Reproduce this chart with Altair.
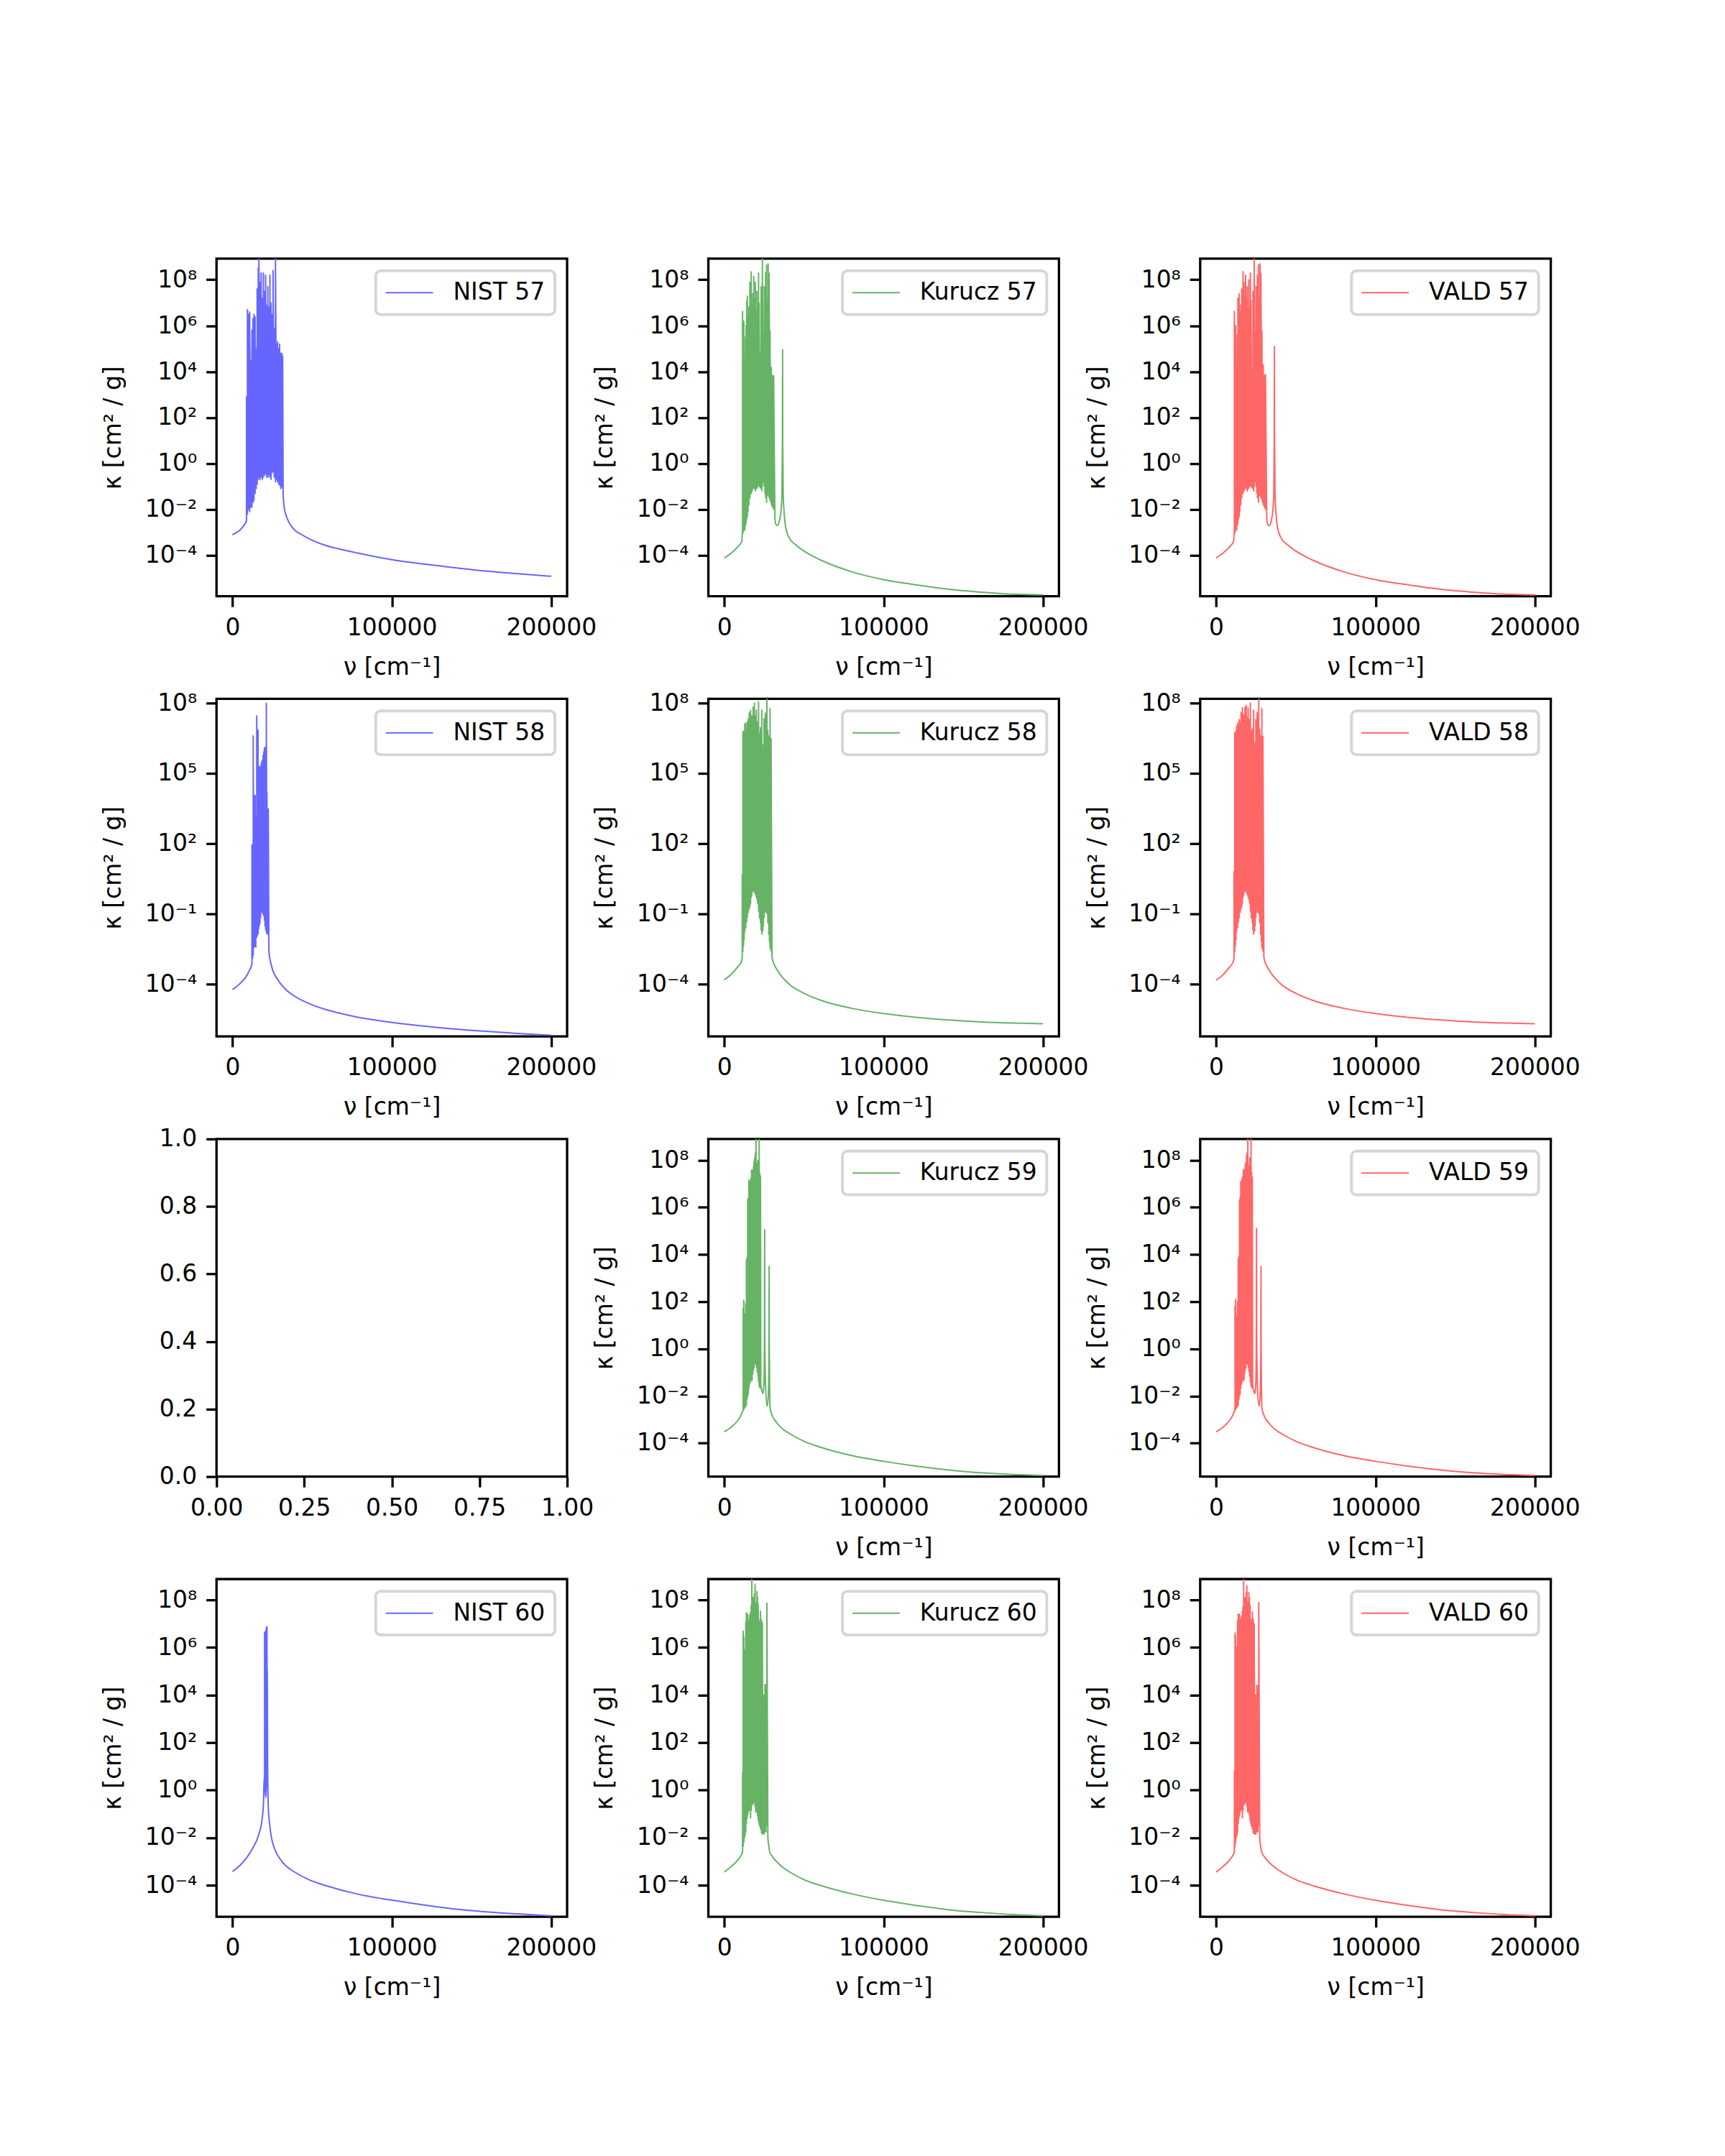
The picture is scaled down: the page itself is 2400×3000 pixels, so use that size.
import altair as alt
import pandas as pd

# ---------------- values (log10 of kappa) ----------------
# each spectrum: left wing (nu, log k), line block (nu, trough, peak), right wing (nu, log k)

NIST57_LEFT = [(0, -3.10), (2400, -3.01), (4400, -2.92), (6400, -2.77), (8000, -2.61)]
NIST57_SPIKES = [
    (8800, -2.5, 2.9), (9400, -2.2, 6.7), (10100, -2.0, 6.5), (10800, -2.1, 6.6), (11500, -1.9, 4.5),
    (12200, -1.9, 5.8), (12900, -1.7, 6.3), (13500, -1.6, 6.5), (14200, -1.3, 6.4), (14900, -1.1, 5.0),
    (15500, -0.9, 7.6), (16200, -0.7, 8.5), (16600, -0.6, 9.5), (17300, -0.7, 7.9), (18000, -0.6, 8.3),
    (18700, -0.7, 7.2), (19400, -0.6, 8.3), (20100, -0.5, 7.5), (20800, -0.45, 8.2), (21500, -0.6, 6.9),
    (22200, -0.6, 7.7), (22900, -0.5, 6.8), (23500, -0.6, 8.2), (24200, -0.7, 7.0), (24900, -0.4, 6.5),
    (25500, -0.35, 8.4), (26200, -0.6, 5.9), (27000, -0.8, 9.5), (27600, -0.7, 5.2), (28300, -0.8, 5.3),
    (29000, -0.9, 5.0), (29600, -0.95, 5.2), (30300, -1.1, 4.8), (31000, -1.0, 4.8), (31500, -1.1, 4.7),
]
NIST57_RIGHT = [(31800, -1.3), (32500, -1.93), (34500, -2.42), (38500, -2.86), (43500, -3.1),
                (48500, -3.29), (58600, -3.57), (68600, -3.75), (78600, -3.9), (98700, -4.17),
                (118800, -4.37), (138800, -4.53), (158900, -4.68), (178900, -4.8), (200000, -4.91)]

KURUCZ57_LEFT = [(0, -4.11), (4400, -3.9), (8400, -3.63), (10850, -3.41)]
KURUCZ57_SPIKES = [
    (11460, -2.8, 6.62), (11860, -3.0, 5.8), (12260, -2.9, 6.2), (12860, -2.9, 1.76), (13270, -2.7, 5.5),
    (13670, -2.6, 6.0), (14070, -2.4, 7.05), (14470, -2.3, 7.3), (14870, -2.1, 6.5), (15480, -1.8, 6.8),
    (16080, -1.5, 7.9), (16480, -1.3, 7.0), (16880, -1.3, 8.35), (17490, -1.2, 6.9), (17890, -1.1, 7.4),
    (18490, -1.07, 8.15), (18890, -1.1, 7.2), (19500, -1.2, 7.9), (19900, -1.1, 6.7), (20500, -1.07, 7.5),
    (20900, -1.0, 6.9), (21510, -0.95, 8.3), (21910, -1.0, 7.0), (22510, -1.07, 4.8), (23120, -1.1, 7.7),
    (23520, -1.2, 6.5), (23920, -1.0, 9.5), (24520, -0.8, 5.8), (25130, -1.0, 7.7), (25530, -1.3, 6.6),
    (25930, -1.5, 8.3), (26530, -1.7, 8.65), (27140, -1.4, 7.0), (27540, -1.3, 8.7), (28140, -1.5, 8.3),
    (28740, -1.6, 5.8), (29150, -1.7, 3.9), (29550, -1.8, 4.2), (30150, -1.9, 3.85), (30550, -1.93, 3.0),
    (30950, -2.0, 3.85),
]
KURUCZ57_RIGHT = [(31760, -2.4), (32560, -2.67), (33570, -2.7), (34570, -2.49), (35580, -2.06),
                  (36180, -1.32), (36480, 0.9), (36580, 4.96), (36680, 0.9), (36980, -1.32),
                  (37590, -2.18), (38590, -2.8), (40600, -3.22), (44620, -3.53), (50650, -3.84),
                  (60700, -4.21), (80800, -4.73), (100900, -5.07), (121000, -5.29), (141100, -5.48),
                  (161200, -5.6), (181300, -5.69), (200000, -5.72)]

VALD57_LEFT = [(0, -4.11), (4400, -3.9), (8400, -3.63), (10850, -3.41)]
VALD57_SPIKES = [
    (11460, -2.8, 6.62), (11860, -3.0, 5.8), (12260, -2.9, 6.0), (12860, -2.9, 1.9), (13270, -2.7, 5.6),
    (13670, -2.6, 7.2), (14070, -2.4, 6.9), (14470, -2.3, 7.4), (14870, -2.1, 6.6), (15480, -1.8, 6.9),
    (16080, -1.5, 7.6), (16480, -1.3, 7.1), (16880, -1.3, 8.35), (17490, -1.2, 7.9), (17890, -1.1, 7.3),
    (18490, -1.07, 8.2), (18890, -1.1, 7.2), (19500, -1.2, 7.7), (19900, -1.1, 6.8), (20500, -1.07, 8.0),
    (20900, -1.0, 6.9), (21510, -0.95, 8.3), (21910, -1.0, 7.1), (22510, -1.07, 4.1), (23120, -1.1, 7.5),
    (23520, -1.2, 6.6), (23920, -1.0, 9.5), (24520, -0.8, 5.8), (25130, -1.0, 7.7), (25530, -1.3, 6.7),
    (25930, -1.5, 8.2), (26530, -1.7, 8.65), (27140, -1.4, 7.1), (27540, -1.3, 8.7), (28140, -1.5, 8.3),
    (28740, -1.6, 5.8), (29150, -1.7, 4.0), (29550, -1.8, 4.3), (30150, -1.9, 3.85), (30550, -1.93, 3.1),
    (30950, -2.0, 3.9),
]
VALD57_RIGHT = [(31760, -2.4), (32560, -2.67), (33570, -2.7), (34570, -2.49), (35580, -2.06),
                (36180, -1.32), (36480, 0.9), (36580, 5.1), (36680, 0.9), (36980, -1.32),
                (37590, -2.18), (38590, -2.8), (40600, -3.22), (44620, -3.53), (50650, -3.84),
                (60700, -4.21), (80800, -4.73), (100900, -5.07), (121000, -5.29), (141100, -5.48),
                (161200, -5.6), (181300, -5.69), (200000, -5.72)]

NIST58_LEFT = [(0, -4.24), (4410, -4.0), (8430, -3.7), (10830, -3.39), (12040, -3.19)]
NIST58_SPIKES = [
    (12240, -3.1, 1.94), (12640, -2.9, 1.94), (13040, -2.75, 6.6), (13440, -2.42, 4.06), (13840, -2.4, 3.2),
    (14240, -2.4, 4.06), (14640, -2.42, 3.2), (15250, -2.0, 7.45), (15650, -1.9, 3.94), (16050, -1.85, 6.85),
    (16450, -1.64, 5.27), (16850, -1.5, 5.3), (17250, -1.4, 5.1), (17650, -1.15, 5.27), (18050, -0.95, 5.4),
    (18460, -0.9, 5.5), (18860, -0.95, 5.55), (19260, -1.05, 5.76), (19660, -1.1, 5.9), (20060, -1.3, 6.06),
    (20460, -1.55, 6.1), (20860, -1.7, 6.1), (21260, -1.8, 8.0), (21670, -1.88, 4.18), (22070, -1.85, 3.5),
    (22470, -1.8, 3.5),
]
NIST58_RIGHT = [(22870, -2.6), (24470, -3.21), (28490, -3.82), (33500, -4.24), (38500, -4.5),
                (48550, -4.85), (58580, -5.09), (68600, -5.27), (78640, -5.42), (98700, -5.63),
                (118760, -5.79), (138820, -5.92), (158880, -6.02), (178940, -6.11), (200000, -6.19)]

KURUCZ58_LEFT = [(0, -3.82), (4420, -3.58), (8440, -3.27), (10850, -3.03)]
KURUCZ58_SPIKES = [
    (11260, -2.85, 0.67), (11660, -2.6, 6.73), (12060, -2.36, 6.8), (12460, -2.1, 6.5), (12860, -1.76, 7.1),
    (13470, -1.6, 7.15), (14070, -1.35, 6.9), (14470, -1.15, 7.2), (15080, -0.95, 7.33), (15680, -0.79, 7.58),
    (16080, -0.67, 7.1), (16480, -0.55, 7.7), (16880, -0.3, 7.3), (17290, -0.2, 7.45), (17690, -0.06, 6.8),
    (18090, 0.0, 7.82), (18490, 0.0, 7.4), (18890, -0.1, 8.0), (19500, -0.18, 7.45), (20100, -0.3, 7.7),
    (20500, -0.4, 6.9), (20900, -0.55, 7.2), (21510, -0.9, 8.06), (22110, -1.2, 6.7), (22710, -1.4, 6.95),
    (23120, -1.7, 5.5), (23520, -1.88, 7.7), (24120, -1.75, 4.06), (24520, -1.5, 6.2), (24920, -1.15, 7.33),
    (25330, -0.95, 6.5), (25730, -0.8, 7.58), (26330, -0.95, 7.45), (26730, -1.0, 8.5), (27340, -1.4, 6.85),
    (27940, -1.9, 6.6), (28340, -2.2, 5.0), (28740, -2.48, 7.76), (29350, -2.6, 6.5),
]
KURUCZ58_RIGHT = [(29950, -2.85), (30550, -3.03), (32560, -3.33), (35580, -3.64), (40600, -4.0),
                  (50650, -4.42), (60700, -4.7), (80800, -5.05), (100900, -5.27), (121000, -5.43),
                  (141100, -5.54), (161200, -5.62), (181300, -5.67), (200000, -5.7)]

VALD58_LEFT = [(0, -3.84), (4420, -3.6), (8440, -3.28), (10850, -3.03)]
VALD58_SPIKES = [
    (11260, -2.85, 0.8), (11660, -2.6, 6.73), (12060, -2.36, 6.6), (12460, -2.1, 6.8), (12860, -1.76, 7.0),
    (13470, -1.6, 7.15), (14070, -1.35, 7.0), (14470, -1.15, 7.3), (15080, -0.95, 7.2), (15680, -0.79, 7.6),
    (16080, -0.67, 7.2), (16480, -0.55, 7.8), (16880, -0.3, 7.3), (17290, -0.2, 7.5), (17690, -0.06, 6.9),
    (18090, 0.0, 7.82), (18490, 0.0, 7.5), (18890, -0.1, 7.9), (19500, -0.18, 7.4), (20100, -0.3, 7.8),
    (20500, -0.4, 6.9), (20900, -0.55, 7.3), (21510, -0.9, 8.0), (22110, -1.2, 6.8), (22710, -1.4, 6.9),
    (23120, -1.7, 5.4), (23520, -1.88, 7.7), (24120, -1.75, 4.1), (24520, -1.5, 6.3), (24920, -1.15, 7.3),
    (25330, -0.95, 6.6), (25730, -0.8, 7.6), (26330, -0.95, 7.4), (26730, -1.0, 8.5), (27340, -1.4, 6.9),
    (27940, -1.9, 6.6), (28340, -2.2, 5.1), (28740, -2.48, 7.76), (29350, -2.6, 6.6),
]
VALD58_RIGHT = [(29950, -2.85), (30550, -3.03), (32560, -3.33), (35580, -3.64), (40600, -4.0),
                (50650, -4.42), (60700, -4.7), (80800, -5.05), (100900, -5.27), (121000, -5.43),
                (141100, -5.54), (161200, -5.62), (181300, -5.67), (200000, -5.7)]

KURUCZ59_LEFT = [(0, -3.52), (4420, -3.32), (8440, -3.04), (10850, -2.76), (11660, -2.62)]
KURUCZ59_SPIKES = [
    (11860, -2.62, 1.7), (12260, -2.55, 2.06), (12660, -2.5, 1.5), (13070, -2.48, 0.98), (13470, -2.42, 1.9),
    (13870, -2.38, 3.74), (14270, -2.14, 3.86), (14670, -2.0, 6.32), (15080, -1.9, 6.38), (15480, -1.66, 7.16),
    (15880, -1.5, 6.68), (16280, -1.42, 7.1), (16680, -1.3, 7.22), (17090, -1.35, 7.58), (17490, -1.3, 7.4),
    (17890, -1.06, 7.58), (18290, -0.9, 7.7), (18690, -0.8, 7.94), (19100, -0.58, 8.1), (19500, -0.65, 8.3),
    (19900, -0.7, 9.5), (20300, -0.82, 7.9), (20700, -1.0, 7.46), (21110, -1.18, 8.0), (21510, -1.42, 7.94),
    (21910, -1.6, 9.5), (22310, -1.66, 7.46), (22710, -1.4, 7.34),
]
KURUCZ59_RIGHT = [(22910, -1.5), (23520, -1.75), (24320, -1.9), (24920, -1.4), (25230, 0.5), (25330, 5.06),
                  (25430, 0.5), (25930, -1.6), (26930, -2.44), (27740, -1.8), (28040, 0.0), (28140, 3.5),
                  (28240, 0.0), (28740, -2.5), (29550, -2.74), (32560, -3.1), (35580, -3.34),
                  (40600, -3.58), (50650, -3.94), (60700, -4.18), (80800, -4.54), (100900, -4.78),
                  (121000, -4.98), (141100, -5.14), (161200, -5.26), (181300, -5.33), (200000, -5.37)]

VALD59_LEFT = [(0, -3.52), (4420, -3.32), (8440, -3.04), (10850, -2.76), (11660, -2.62)]
VALD59_SPIKES = [
    (11860, -2.62, 1.8), (12260, -2.55, 2.1), (12660, -2.5, 1.4), (13070, -2.48, 1.0), (13470, -2.42, 2.0),
    (13870, -2.38, 3.8), (14270, -2.14, 3.9), (14670, -2.0, 6.3), (15080, -1.9, 6.4), (15480, -1.66, 7.1),
    (15880, -1.5, 6.7), (16280, -1.42, 7.2), (16680, -1.3, 7.3), (17090, -1.35, 7.6), (17490, -1.3, 7.4),
    (17890, -1.06, 7.6), (18290, -0.9, 7.8), (18690, -0.8, 7.9), (19100, -0.58, 8.2), (19500, -0.65, 8.3),
    (19900, -0.7, 9.5), (20300, -0.82, 7.8), (20700, -1.0, 7.5), (21110, -1.18, 8.1), (21510, -1.42, 7.9),
    (21910, -1.6, 9.5), (22310, -1.66, 7.5), (22710, -1.4, 7.3),
]
VALD59_RIGHT = [(22910, -1.5), (23520, -1.75), (24320, -1.9), (24920, -1.4), (25230, 0.5), (25330, 5.1),
                (25430, 0.5), (25930, -1.6), (26930, -2.44), (27740, -1.8), (28040, 0.0), (28140, 3.5),
                (28240, 0.0), (28740, -2.5), (29550, -2.74), (32560, -3.1), (35580, -3.34),
                (40600, -3.58), (50650, -3.94), (60700, -4.18), (80800, -4.54), (100900, -4.78),
                (121000, -4.98), (141100, -5.14), (161200, -5.26), (181300, -5.33), (200000, -5.37)]

NIST60_LEFT = [(0, -3.43), (4410, -3.19), (8430, -2.89), (12440, -2.48), (16450, -1.88), (18460, -1.29),
               (19460, -0.57), (19860, 0.5)]
NIST60_SPIKES = [(20160, 0.3, 6.63), (20460, -0.1, 6.6), (20660, -0.2, 6.63), (20860, -0.3, 2.0),
                 (21060, -0.2, 6.7), (21260, 0.0, 6.8), (21470, 0.2, 6.85), (21670, 0.5, 6.87),
                 (21870, 1.0, 5.0)]
NIST60_RIGHT = [(22070, 1.1), (22470, -0.7), (23470, -1.52), (24470, -2.0), (26480, -2.48), (30490, -2.95),
                (33500, -3.19), (38520, -3.43), (48550, -3.79), (58580, -4.02), (78640, -4.38),
                (98700, -4.62), (118760, -4.82), (138820, -5.0), (158880, -5.12), (178940, -5.21),
                (200000, -5.29)]

KURUCZ60_LEFT = [(0, -3.45), (4420, -3.21), (8440, -2.95), (10850, -2.71), (11260, -2.65)]
KURUCZ60_SPIKES = [
    (11460, -2.6, 0.74), (11860, -2.36, 6.69), (12260, -2.2, 6.45), (12660, -2.0, 5.86), (13070, -1.9, 5.9),
    (13470, -1.76, 7.05), (13870, -1.4, 7.46), (14270, -1.2, 7.05), (14670, -1.05, 7.4), (15080, -0.93, 7.17),
    (15480, -0.85, 7.0), (15880, -0.8, 7.35), (16480, -1.17, 7.46), (16880, -0.85, 7.76), (17290, -0.63, 9.5),
    (17690, -0.6, 7.64), (18090, -0.57, 8.1), (18490, -0.5, 7.6), (18890, -0.45, 8.24), (19300, -0.7, 8.65),
    (19700, -0.93, 7.88), (20100, -0.9, 7.6), (20500, -0.95, 8.36), (20900, -1.1, 8.1), (21310, -1.29, 7.8),
    (21710, -1.4, 7.17), (22110, -1.52, 7.05), (22710, -1.64, 7.52), (23320, -1.82, 7.17), (23920, -1.85, 7.05),
    (24320, -1.85, 3.95), (24920, -1.85, 4.0), (25530, -1.76, 4.43), (26130, -1.76, 4.43), (26730, -1.5, 7.88),
]
KURUCZ60_RIGHT = [(27340, -2.0), (27940, -2.36), (28540, -2.6), (30550, -2.83), (35580, -3.19),
                  (40600, -3.43), (50650, -3.79), (60700, -4.02), (80800, -4.38), (100900, -4.65),
                  (121000, -4.86), (141100, -5.04), (161200, -5.15), (181300, -5.24), (200000, -5.29)]

VALD60_LEFT = [(0, -3.45), (4420, -3.21), (8440, -2.95), (10850, -2.71), (11260, -2.65)]
VALD60_SPIKES = [
    (11460, -2.6, 0.8), (11860, -2.36, 6.6), (12260, -2.2, 6.5), (12660, -2.0, 5.9), (13070, -1.9, 6.0),
    (13470, -1.76, 7.1), (13870, -1.4, 7.4), (14270, -1.2, 7.0), (14670, -1.05, 7.4), (15080, -0.93, 7.2),
    (15480, -0.85, 7.1), (15880, -0.8, 7.3), (16480, -1.17, 7.5), (16880, -0.85, 7.7), (17290, -0.63, 9.5),
    (17690, -0.6, 7.6), (18090, -0.57, 8.1), (18490, -0.5, 7.7), (18890, -0.45, 8.3), (19300, -0.7, 8.6),
    (19700, -0.93, 7.9), (20100, -0.9, 7.6), (20500, -0.95, 8.3), (20900, -1.1, 8.1), (21310, -1.29, 7.8),
    (21710, -1.4, 7.2), (22110, -1.52, 7.1), (22710, -1.64, 7.5), (23320, -1.82, 7.2), (23920, -1.85, 7.0),
    (24320, -1.85, 4.0), (24920, -1.85, 4.0), (25530, -1.76, 4.4), (26130, -1.76, 4.4), (26730, -1.5, 7.9),
]
VALD60_RIGHT = [(27340, -2.0), (27940, -2.36), (28540, -2.6), (30550, -2.83), (35580, -3.19),
                (40600, -3.43), (50650, -3.79), (60700, -4.02), (80800, -4.38), (100900, -4.65),
                (121000, -4.86), (141100, -5.04), (161200, -5.15), (181300, -5.24), (200000, -5.29)]

# y-axis limits per row (log10) and tick exponents
ROW_YLIM = [(-5.78, 8.92), (-6.24, 8.18), (-5.42, 8.90), (-5.33, 8.87)]
ROW_TICKS = [[-4, -2, 0, 2, 4, 6, 8], [-4, -1, 2, 5, 8], [-4, -2, 0, 2, 4, 6, 8], [-4, -2, 0, 2, 4, 6, 8]]
X_TICKS = [0, 100000, 200000]
EMPTY_X_TICKS = [0.0, 0.25, 0.5, 0.75, 1.0]
EMPTY_Y_TICKS = [0.0, 0.2, 0.4, 0.6, 0.8, 1.0]

COLORS = {"NIST": "#6666ff", "Kurucz": "#66b366", "VALD": "#ff6666"}

PANELS = [
    ("NIST 57", "NIST", NIST57_LEFT, NIST57_SPIKES, NIST57_RIGHT, 0),
    ("Kurucz 57", "Kurucz", KURUCZ57_LEFT, KURUCZ57_SPIKES, KURUCZ57_RIGHT, 0),
    ("VALD 57", "VALD", VALD57_LEFT, VALD57_SPIKES, VALD57_RIGHT, 0),
    ("NIST 58", "NIST", NIST58_LEFT, NIST58_SPIKES, NIST58_RIGHT, 1),
    ("Kurucz 58", "Kurucz", KURUCZ58_LEFT, KURUCZ58_SPIKES, KURUCZ58_RIGHT, 1),
    ("VALD 58", "VALD", VALD58_LEFT, VALD58_SPIKES, VALD58_RIGHT, 1),
    None,
    ("Kurucz 59", "Kurucz", KURUCZ59_LEFT, KURUCZ59_SPIKES, KURUCZ59_RIGHT, 2),
    ("VALD 59", "VALD", VALD59_LEFT, VALD59_SPIKES, VALD59_RIGHT, 2),
    ("NIST 60", "NIST", NIST60_LEFT, NIST60_SPIKES, NIST60_RIGHT, 3),
    ("Kurucz 60", "Kurucz", KURUCZ60_LEFT, KURUCZ60_SPIKES, KURUCZ60_RIGHT, 3),
    ("VALD 60", "VALD", VALD60_LEFT, VALD60_SPIKES, VALD60_RIGHT, 3),
]

# ---------------- chart ----------------
W, H = 489, 471
FONT = "DejaVu Sans"

sup = "'' + round(log(datum.value) / LN10)"
for a, b in [("-", "⁻"), ("0", "⁰"), ("1", "¹"), ("2", "²"), ("3", "³"), ("4", "⁴"),
             ("5", "⁵"), ("6", "⁶"), ("7", "⁷"), ("8", "⁸"), ("9", "⁹")]:
    sup = f"replace({sup}, '{a}', '{b}')"
SUP_EXPR = "'10' + " + sup


def spectrum_chart(label, source, left, spikes, right, row):
    nu, lk = [], []
    for n, v in left:
        nu.append(n); lk.append(v)
    for n, lo, hi in spikes:
        nu += [n, n]; lk += [lo, hi]
    for n, v in right:
        nu.append(n); lk.append(v)
    df = pd.DataFrame({"i": list(range(len(nu))), "nu": nu,
                       "kappa": [10.0 ** v for v in lk], "label": label})
    ylo, yhi = ROW_YLIM[row]
    return alt.Chart(df).mark_line(clip=True, strokeWidth=2.0, interpolate="monotone").encode(
        x=alt.X("nu:Q",
                scale=alt.Scale(domain=[-10000, 210000], nice=False, zero=False),
                axis=alt.Axis(values=X_TICKS, format="d", title="ν [cm⁻¹]",
                              titleX=W / 2, titleY=99, titleBaseline="middle", titleAlign="center")),
        y=alt.Y("kappa:Q",
                scale=alt.Scale(type="log", domain=[10 ** ylo, 10 ** yhi], nice=False),
                axis=alt.Axis(values=[10.0 ** e for e in ROW_TICKS[row]], labelExpr=SUP_EXPR,
                              title="κ [cm² / g]", titleX=-144, titleY=H / 2, titleAngle=270,
                              titleBaseline="middle", titleAlign="center")),
        color=alt.Color("label:N", scale=alt.Scale(domain=[label], range=[COLORS[source]]),
                        legend=alt.Legend(title=None)),
        order="i:Q",
    ).properties(width=W, height=H)


def empty_chart():
    df = pd.DataFrame({"x": pd.Series([], dtype=float), "y": pd.Series([], dtype=float)})
    return alt.Chart(df).mark_point(opacity=0).encode(
        x=alt.X("x:Q", scale=alt.Scale(domain=[0, 1], nice=False, zero=False),
                axis=alt.Axis(values=EMPTY_X_TICKS, format=".2f", title=None)),
        y=alt.Y("y:Q", scale=alt.Scale(domain=[0, 1], nice=False, zero=False),
                axis=alt.Axis(values=EMPTY_Y_TICKS, format=".1f", title=None)),
    ).properties(width=W, height=H)


charts = [empty_chart() if p is None else spectrum_chart(*p) for p in PANELS]

chart = alt.concat(
    *charts, columns=3, spacing={"row": 143, "column": 197}, bounds="flush"
).resolve_scale(
    x="independent", y="independent", color="independent"
).resolve_legend(
    color="independent"
).properties(
    padding={"left": 140, "top": 355, "right": 200, "bottom": 210}
).configure_view(
    stroke="black", strokeWidth=3.3
).configure_axis(
    labelFont=FONT, labelFontSize=33, labelColor="black",
    titleFont=FONT, titleFontSize=33, titleFontWeight="normal", titleColor="black",
    tickSize=14.6, tickWidth=3.3, tickColor="black", labelPadding=13,
    domain=False, grid=False, labelFlush=False, labelOverlap=False,
).configure_legend(
    orient="top-right", offset=17, padding=13, strokeColor="#d6d6d6", strokeWidth=4,
    cornerRadius=7, fillColor="white", symbolType="M-1,0H3", symbolSize=1089,
    symbolStrokeWidth=2, labelFont=FONT, labelFontSize=33, labelColor="black",
    labelOffset=60, labelLimit=600,
)

chart.save("out.html", embed_options={"renderer": "svg", "actions": False})
